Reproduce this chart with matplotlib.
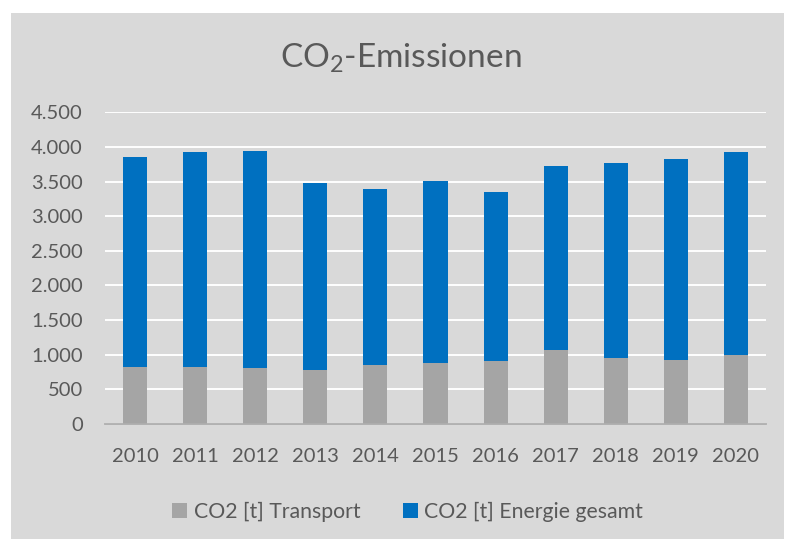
import matplotlib
matplotlib.use("Agg")
import matplotlib.pyplot as plt
from matplotlib.patches import Rectangle, Patch
from matplotlib.ticker import FuncFormatter

years = ["2010", "2011", "2012", "2013", "2014", "2015", "2016", "2017", "2018", "2019", "2020"]
transport = [823, 823, 809, 785, 852, 881, 905, 1069, 958, 920, 996]
energie = [3028, 3100, 3138, 2695, 2541, 2628, 2450, 2652, 2806, 2902, 2932]

plt.rcParams['font.family'] = ['Lato', 'DejaVu Sans']
plt.rcParams['mathtext.fontset'] = 'custom'
plt.rcParams['mathtext.rm'] = 'Lato'

txt = '#595959'
bg = '#D9D9D9'

fig = plt.figure(figsize=(7.85, 5.39), dpi=100)
fig.patch.set_facecolor('white')
fig.patches.append(Rectangle((11/785, 0), (784-11)/785, 1-13/539,
                             transform=fig.transFigure, facecolor=bg,
                             edgecolor='none', zorder=-10))

ax = fig.add_axes([105/785, 1-424/539, (766-105)/785, (424-112.3)/539])
ax.set_facecolor(bg)
ax.patch.set_alpha(0)

x = range(len(years))
ax.bar(x, transport, width=0.4, color='#A5A5A5', zorder=3, label='CO2 [t] Transport')
ax.bar(x, energie, width=0.4, bottom=transport, color='#0070C0', zorder=3,
       label='CO2 [t] Energie gesamt')

ax.set_xlim(-0.5, len(years) - 0.5)
ax.set_ylim(0, 4500)
ax.set_yticks(range(0, 4501, 500))
ax.yaxis.set_major_formatter(FuncFormatter(lambda v, p: f"{int(v):,}".replace(',', '.')))
ax.set_xticks(list(x))
ax.set_xticklabels(years)
ax.grid(axis='y', color='white', linewidth=1.4, zorder=0)
ax.set_axisbelow(True)
for s in ['top', 'right', 'left']:
    ax.spines[s].set_visible(False)
ax.spines['bottom'].set_color('#ADADAD')
ax.spines['bottom'].set_linewidth(1.3)
ax.spines['bottom'].set_zorder(4)
ax.tick_params(axis='both', length=0, labelsize=14.5, colors=txt)
ax.tick_params(axis='x', pad=17)
ax.tick_params(axis='y', pad=16)

fig.text(401/785, 1-58/539, r'CO$_\mathregular{2}$-Emissionen', ha='center', va='center',
         fontsize=24, color=txt)

handles = [Patch(facecolor='#A5A5A5', label='CO2 [t] Transport'),
           Patch(facecolor='#0070C0', label='CO2 [t] Energie gesamt')]
leg = fig.legend(handles=handles, loc='center', bbox_to_anchor=(407.5/785, 1-512/539),
                 ncol=2, frameon=False, fontsize=15.3, handlelength=0.7,
                 handleheight=0.7, handletextpad=0.3, columnspacing=2.0)
for t in leg.get_texts():
    t.set_color(txt)

fig.savefig('out.png', dpi=100, facecolor=fig.get_facecolor())
